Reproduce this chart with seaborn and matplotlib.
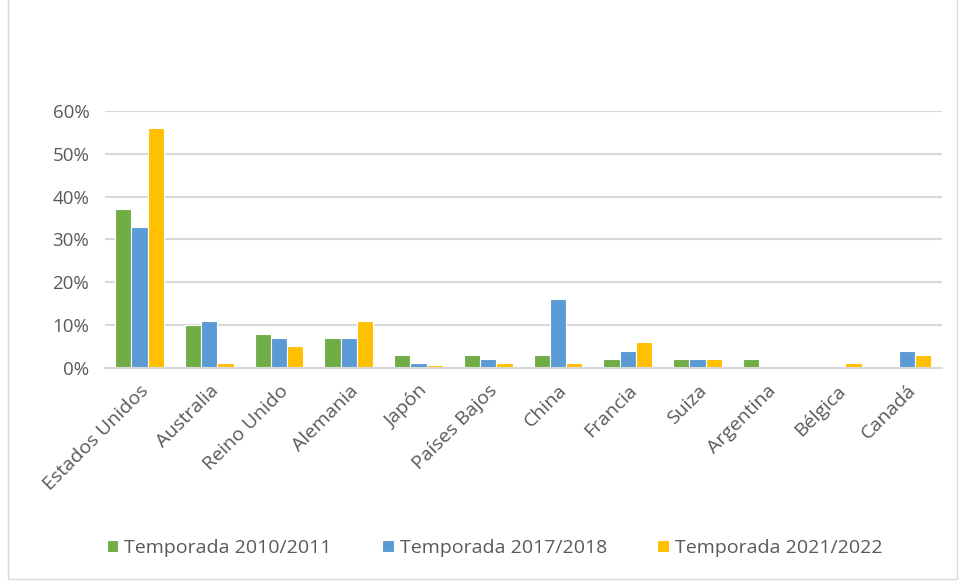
import pandas as pd
import matplotlib.pyplot as plt
import matplotlib.ticker as mticker
from matplotlib.patches import Rectangle
import seaborn as sns

sns.set_style("white")
plt.rcParams['font.family'] = ['Open Sans', 'DejaVu Sans']

countries = ["Estados Unidos", "Australia", "Reino Unido", "Alemania", "Japón",
             "Países Bajos", "China", "Francia", "Suiza", "Argentina", "Bélgica", "Canadá"]
seasons = ["Temporada 2010/2011", "Temporada 2017/2018", "Temporada 2021/2022"]
s2010 = [0.37, 0.10, 0.08, 0.07, 0.03, 0.03, 0.03, 0.02, 0.02, 0.02, 0.0, 0.0]
s2017 = [0.33, 0.11, 0.07, 0.07, 0.01, 0.02, 0.16, 0.04, 0.02, 0.0, 0.0, 0.04]
s2021 = [0.56, 0.01, 0.05, 0.11, 0.006, 0.01, 0.01, 0.06, 0.02, 0.0, 0.01, 0.03]
colors = ["#70ad47", "#5b9bd5", "#ffc000"]

df = pd.DataFrame({
    "Pais": countries * 3,
    "Temporada": [seasons[0]] * 12 + [seasons[1]] * 12 + [seasons[2]] * 12,
    "Valor": s2010 + s2017 + s2021,
})

fig = plt.figure(figsize=(9.59, 5.81), dpi=100)
ax = fig.add_axes([0.109, 0.367, 0.873, 0.442])

sns.barplot(data=df, x="Pais", y="Valor", hue="Temporada", palette=colors,
            saturation=1, width=0.7, edgecolor="white", linewidth=0.8, ax=ax)

ax.set_ylim(0, 0.6)
ax.set_xlim(-0.5, len(countries) - 0.5)
ax.yaxis.set_major_locator(mticker.MultipleLocator(0.1))
ax.yaxis.set_major_formatter(mticker.PercentFormatter(1.0, decimals=0))
ax.grid(axis="y", color="#d9d9d9", linewidth=1.5)
ax.set_axisbelow(True)
for s in ["top", "right", "left"]:
    ax.spines[s].set_visible(False)
ax.spines["bottom"].set_color("#d9d9d9")
ax.spines["bottom"].set_linewidth(1.5)
ax.tick_params(axis="y", length=0, colors="#595959", labelsize=13.5, pad=11)
ax.tick_params(axis="x", length=0, colors="#595959", labelsize=14, pad=10)
plt.setp(ax.get_xticklabels(), rotation=45, ha="right", rotation_mode="anchor")
ax.set_xlabel("")
ax.set_ylabel("")

ax.legend(loc="center", bbox_to_anchor=(0.466, -0.70), ncol=3, frameon=False,
          fontsize=14, labelcolor="#595959", handlelength=0.6, handleheight=0.6,
          handletextpad=0.3, columnspacing=2.6)

fig.patches.append(Rectangle((0.008, 0.004), 0.99, 1.2, transform=fig.transFigure,
                             fill=False, edgecolor="#d9d9d9", linewidth=1))

plt.savefig("out.png", dpi=100)
